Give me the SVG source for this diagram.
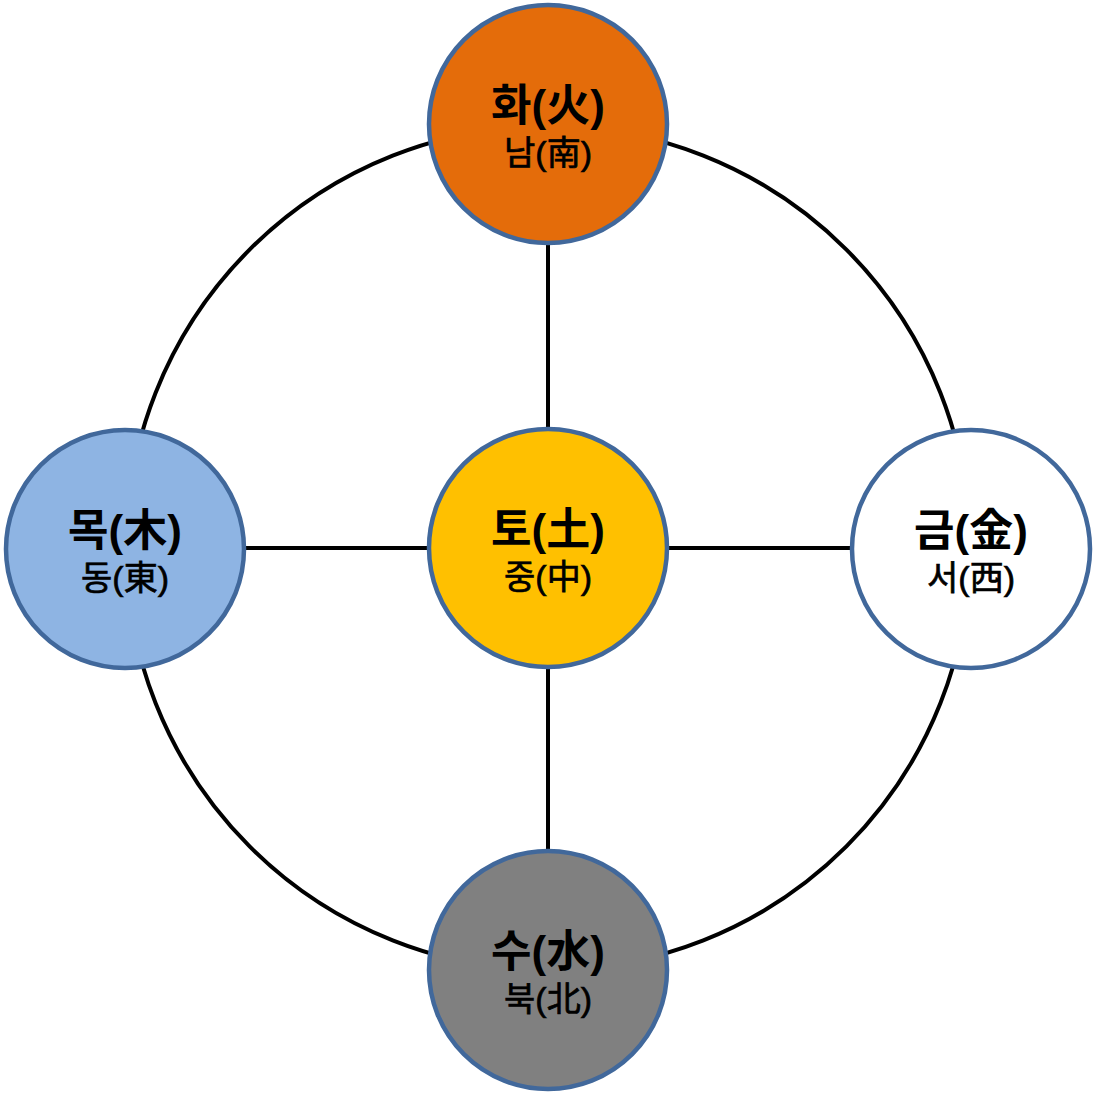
<svg xmlns="http://www.w3.org/2000/svg" width="1096" height="1095" viewBox="0 0 1096 1095">
<style>
.conn{fill:none;stroke:#000;stroke-width:4}
.node{stroke:#41689B;stroke-width:4.5}
text{font-family:"Liberation Sans","Noto Sans CJK KR","Noto Sans CJK SC",sans-serif;fill:#000;text-anchor:middle}
.t1{font-weight:bold;font-size:44px}
.t2{font-weight:normal;font-size:34px;stroke:#000;stroke-width:0.7}
</style>
<rect width="1096" height="1095" fill="#fff"/>
<g id="connectors">
<circle class="conn" cx="548" cy="548" r="422"/>
<line class="conn" x1="548" y1="240" x2="548" y2="430"/>
<line class="conn" x1="548" y1="666" x2="548" y2="852"/>
<line class="conn" x1="244" y1="548" x2="430" y2="548"/>
<line class="conn" x1="666" y1="548" x2="854" y2="548"/>
</g>
<g id="fire">
<circle class="node" cx="548" cy="124" r="119" fill="#E46C0A"/>
<text class="t1" x="548" y="121">화(火)</text>
<text class="t2" x="548" y="165">남(南)</text>
</g>
<g id="earth">
<circle class="node" cx="548" cy="548" r="119" fill="#FFC000"/>
<text class="t1" x="548" y="545">토(土)</text>
<text class="t2" x="548" y="589">중(中)</text>
</g>
<g id="wood">
<circle class="node" cx="125" cy="549" r="119" fill="#8EB4E3"/>
<text class="t1" x="125" y="546">목(木)</text>
<text class="t2" x="125" y="590">동(東)</text>
</g>
<g id="metal">
<circle class="node" cx="971" cy="549" r="119" fill="#FFFFFF"/>
<text class="t1" x="971" y="546">금(金)</text>
<text class="t2" x="971" y="590">서(西)</text>
</g>
<g id="water">
<circle class="node" cx="548" cy="970" r="119" fill="#808080"/>
<text class="t1" x="548" y="967">수(水)</text>
<text class="t2" x="548" y="1011">북(北)</text>
</g>
</svg>
